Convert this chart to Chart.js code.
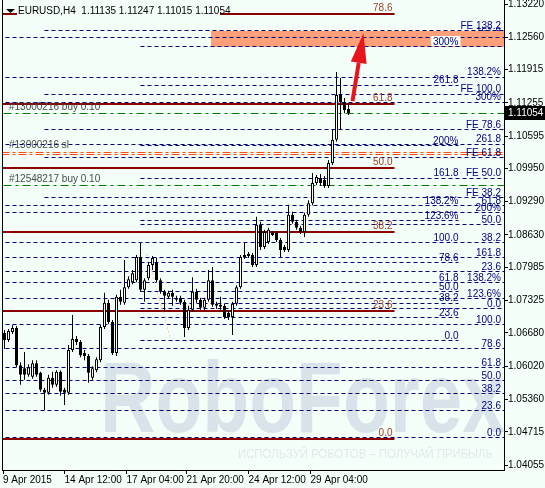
<!DOCTYPE html>
<html>
<head>
<meta charset="utf-8">
<script src="https://cdn.jsdelivr.net/npm/chart.js@4.4.0/dist/chart.umd.min.js"></script>
<style>
  html, body { margin: 0; padding: 0; background: #f5fffa; }
  #wrap { width: 545px; height: 488px; }
</style>
</head>
<body>
<div id="wrap"><canvas id="chart" width="545" height="488"></canvas></div>
<script>
// EURUSD H4 candles, 9 Apr - 30 Apr 2015
const opens = [1.0668, 1.0654, 1.0670, 1.0678, 1.0604, 1.0598, 1.0585, 1.0581, 1.0608, 1.0589,
  1.0555, 1.0549, 1.0579, 1.0565, 1.0591, 1.0555, 1.0549, 1.0634, 1.0656, 1.0650,
  1.0628, 1.0622, 1.0579, 1.0594, 1.0614, 1.0680, 1.0728, 1.0690, 1.0628, 1.0740,
  1.0728, 1.0759, 1.0769, 1.0773, 1.0819, 1.0754, 1.0777, 1.0803, 1.0807, 1.0773,
  1.0750, 1.0740, 1.0748, 1.0734, 1.0738, 1.0730, 1.0678, 1.0714, 1.0750, 1.0734,
  1.0718, 1.0734, 1.0773, 1.0726, 1.0724, 1.0722, 1.0708, 1.0700, 1.0726, 1.0759,
  1.0819, 1.0825, 1.0823, 1.0803, 1.0883, 1.0839, 1.0849, 1.0867, 1.0867, 1.0853,
  1.0839, 1.0833, 1.0903, 1.0889, 1.0877, 1.0869, 1.0903, 1.0926, 1.0966, 1.0976,
  1.0972, 1.0960, 1.1006, 1.1052, 1.1141, 1.1127, 1.11135];
const highs = [1.0674, 1.0676, 1.0684, 1.0682, 1.0610, 1.0630, 1.0606, 1.0614, 1.0614, 1.0591,
  1.0559, 1.0585, 1.0591, 1.0594, 1.0594, 1.0559, 1.0644, 1.0704, 1.0662, 1.0654,
  1.0634, 1.0626, 1.0602, 1.0620, 1.0684, 1.0748, 1.0734, 1.0694, 1.0744, 1.0754,
  1.0813, 1.0781, 1.0793, 1.0823, 1.0847, 1.0777, 1.0809, 1.0821, 1.0817, 1.0777,
  1.0754, 1.0752, 1.0754, 1.0742, 1.0742, 1.0734, 1.0722, 1.0779, 1.0756, 1.0738,
  1.0738, 1.0793, 1.0799, 1.0730, 1.0740, 1.0726, 1.0712, 1.0730, 1.0763, 1.0823,
  1.0847, 1.0829, 1.0827, 1.0899, 1.0889, 1.0873, 1.0877, 1.0871, 1.0871, 1.0857,
  1.0843, 1.0923, 1.0909, 1.0893, 1.0881, 1.0907, 1.0932, 1.0986, 1.0982, 1.0984,
  1.0980, 1.1012, 1.1072, 1.1187, 1.1175, 1.1135, 1.11247];
const lows = [1.0636, 1.0650, 1.0666, 1.0600, 1.0565, 1.0575, 1.0581, 1.0577, 1.0581, 1.0551,
  1.0515, 1.0545, 1.0559, 1.0561, 1.0543, 1.0525, 1.0545, 1.0630, 1.0644, 1.0620,
  1.0614, 1.0569, 1.0575, 1.0590, 1.0610, 1.0676, 1.0686, 1.0624, 1.0622, 1.0724,
  1.0724, 1.0756, 1.0765, 1.0769, 1.0750, 1.0730, 1.0773, 1.0793, 1.0769, 1.0746,
  1.0710, 1.0736, 1.0722, 1.0730, 1.0724, 1.0660, 1.0674, 1.0710, 1.0728, 1.0714,
  1.0712, 1.0730, 1.0720, 1.0716, 1.0714, 1.0696, 1.0694, 1.0664, 1.0722, 1.0756,
  1.0815, 1.0817, 1.0799, 1.0799, 1.0833, 1.0835, 1.0845, 1.0861, 1.0849, 1.0819,
  1.0829, 1.0829, 1.0885, 1.0873, 1.0865, 1.0859, 1.0899, 1.0922, 1.0962, 1.0960,
  1.0956, 1.0956, 1.1002, 1.1048, 1.1072, 1.1105, 1.11015];
const closes = [1.0654, 1.0672, 1.0678, 1.0604, 1.0585, 1.0585, 1.0600, 1.0608, 1.0585, 1.0555,
  1.0549, 1.0579, 1.0565, 1.0591, 1.0551, 1.0549, 1.0634, 1.0656, 1.0650, 1.0624,
  1.0622, 1.0589, 1.0598, 1.0616, 1.0680, 1.0728, 1.0690, 1.0628, 1.0740, 1.0730,
  1.0759, 1.0775, 1.0787, 1.0819, 1.0754, 1.0773, 1.0803, 1.0817, 1.0773, 1.0750,
  1.0742, 1.0748, 1.0740, 1.0738, 1.0728, 1.0678, 1.0714, 1.0750, 1.0734, 1.0718,
  1.0734, 1.0773, 1.0724, 1.0722, 1.0720, 1.0700, 1.0700, 1.0726, 1.0759, 1.0819,
  1.0823, 1.0821, 1.0803, 1.0883, 1.0839, 1.0869, 1.0873, 1.0863, 1.0853, 1.0833,
  1.0833, 1.0903, 1.0889, 1.0877, 1.0869, 1.0903, 1.0926, 1.0966, 1.0978, 1.0966,
  1.0960, 1.1006, 1.1052, 1.1141, 1.1127, 1.1111, 1.11054];

const priceTicks = [1.13220, 1.12560, 1.11915, 1.11255, 1.10595, 1.09950, 1.09290, 1.08630,
  1.07985, 1.07325, 1.06680, 1.06020, 1.05360, 1.04715, 1.04055];
const timeLabels = ["9 Apr 2015", "14 Apr 12:00", "17 Apr 04:00", "21 Apr 20:00", "24 Apr 12:00", "29 Apr 04:00"];
const timeBars = [-0.375, 15, 30.5, 45.5, 61, 76.5];

// fibo expansion levels (navy dashed)
const levelPrice = [1.12684, 1.12564, 1.12366, 1.11769, 1.11610, 1.11431, 1.11272, 1.10716, 1.10437, 1.10398,
  1.10159, 1.09761, 1.09364, 1.09205, 1.09066, 1.08907, 1.08827, 1.08469, 1.08171, 1.08072,
  1.07893, 1.07674, 1.07495, 1.07356, 1.07276, 1.07157, 1.06978, 1.06839, 1.06521, 1.06362,
  1.05984, 1.05726, 1.05467, 1.05129, 1.04593];
const levelFrom = [10, -5, 34, -5, 34, 10, -5, 10, -5, 34,
  10, 34, 10, -5, -5, 34, 34, -5, -5, 34,
  -5, -5, 34, -5, 34, 34, 34, -5, 34, -5,
  -5, -5, -5, -5, -5];
const levelTo = [130, 130, 130, 130, 113.5, 130, 130, 130, 130, 113.5,
  130, 130, 130, 130, 130, 113.5, 130, 130, 130, 113.5,
  130, 130, 113.5, 130, 113.5, 130, 113.5, 130, 113.5, 130,
  130, 130, 130, 130, 130];
const levelRight = ["FE 138.2", "161.8", "", "138.2%", "", "FE 100.0", "300%", "FE 78.6", "261.8", "",
  "FE 61.8", "FE 50.0", "FE 38.2", "61.8", "200%", "", "50.0", "38.2", "161.8", "",
  "23.6", "138.2%", "", "123.6%", "", "0.0", "", "100.0", "", "78.6",
  "61.8", "50.0", "38.2", "23.6", "0.0"];
const levelMid = ["", "", "300%", "", "261.8", "", "", "", "", "200%",
  "", "161.8", "", "138.2%", "", "123.6%", "", "100.0", "", "78.6",
  "", "61.8", "50.0", "", "38.2", "", "23.6", "", "0.0", "",
  "", "", "", "", ""];

// fibo retracement (maroon)
const retrPrice = [1.04573, 1.07117, 1.08688, 1.09960, 1.11232, 1.13022];
const retrText = ["0.0", "23.6", "38.2", "50.0", "61.8", "78.6"];
const retrEnd = 97.5;

// open orders
const orderPrice = [1.11050, 1.10258, 1.09622];
const orderText = ["#13000216 buy 0.10", "#13000216 sl", "#12548217 buy 0.10"];

// target zone, arrow, trend line
const zoneBars = [51.5, 130];
const zonePrices = [1.12684, 1.12366];
const arrowBars = [87, 89.75];
const arrowPrices = [1.1129, 1.1264];
const trendBars = [35.5, 41.5];
const trendPrices = [1.0825, 1.0657];

const BG = "#f5fffa";
const NAVY = "#000080";
const FONT = '10px "Liberation Sans"';

Chart.defaults.font.family = "Liberation Sans";
Chart.defaults.font.size = 10;
Chart.defaults.color = "#000";

const idx = opens.map((o, i) => i);
const datasets = [];

levelPrice.forEach((p, k) => {
  datasets.push({
    type: "line",
    data: [{ x: levelFrom[k], y: p }, { x: levelTo[k], y: p }],
    borderColor: NAVY, borderWidth: 1, borderDash: [4, 3],
    pointRadius: 0, clip: 0, order: 10, snap: true
  });
});

retrPrice.forEach(p => {
  datasets.push({
    type: "line",
    data: [{ x: -5, y: p }, { x: retrEnd, y: p }],
    borderColor: "#8b0000", borderWidth: 2,
    pointRadius: 0, clip: 0, order: 9, snap: true
  });
});

orderPrice.forEach((p, k) => {
  const sl = orderText[k].endsWith("sl");
  const offs = sl ? [0.0002, -0.0002] : [0];
  offs.forEach(d => {
    datasets.push({
      type: "line",
      data: [{ x: -5, y: p + d }, { x: 130, y: p + d }],
      borderColor: sl ? "#ff4d10" : "#008000", borderWidth: 1,
      borderDash: sl ? [8, 3, 3, 3] : [8, 4, 3, 4],
      pointRadius: 0, clip: 0, order: 8, snap: true
    });
  });
});

datasets.push({
  type: "line",
  data: [{ x: trendBars[0], y: trendPrices[0] }, { x: trendBars[1], y: trendPrices[1] }],
  borderColor: "#f5c9a6", borderWidth: 1, borderDash: [2, 2],
  pointRadius: 0, order: 7
});

// wicks
datasets.push({
  type: "bar",
  data: idx.map(i => ({ x: i, y: [lows[i], highs[i]] })),
  backgroundColor: "#000", borderWidth: 0, barThickness: 1,
  grouped: false, inflateAmount: 0, order: 2
});
// bodies
datasets.push({
  type: "bar",
  data: idx.map(i => ({ x: i, y: [opens[i], closes[i]] })),
  backgroundColor: idx.map(i => closes[i] > opens[i] ? "#fff" : "#000"),
  borderColor: "#000", borderWidth: 1, borderSkipped: false,
  barThickness: 3, minBarLength: 1, grouped: false, inflateAmount: 0, order: 1
});

function label(ctx, text, x, y, color) {
  ctx.fillStyle = color;
  ctx.fillText(text, x, y);
}

// keep the horizontal level lines on whole pixels
const snapLines = {
  id: "snapLines",
  beforeDatasetDraw(chart, args) {
    const ds = chart.data.datasets[args.index];
    chart.ctx.save();
    if (ds.snap && args.meta.data.length) {
      const y = args.meta.data[0].y;
      const target = ds.borderWidth % 2 ? Math.floor(y) + 0.5 : Math.round(y);
      chart.ctx.translate(0, target - y);
    }
  },
  afterDatasetDraw(chart) {
    chart.ctx.restore();
  }
};

const overlay = {
  id: "overlay",
  beforeDraw(chart) {
    const ctx = chart.ctx;
    ctx.save();
    ctx.fillStyle = BG;
    ctx.fillRect(0, 0, chart.width, chart.height);
    ctx.restore();
  },
  beforeDatasetsDraw(chart) {
    const ctx = chart.ctx, xs = chart.scales.x, ys = chart.scales.y, a = chart.chartArea;
    ctx.save();
    // watermark
    ctx.fillStyle = "#d9e4ea";
    ctx.font = 'bold 100px "Liberation Sans"';
    ctx.textBaseline = "alphabetic";
    ctx.textAlign = "left";
    let w = ctx.measureText("RoboForex").width;
    ctx.save();
    ctx.translate(100, 432);
    ctx.scale(405 / w, 1);
    ctx.fillText("RoboForex", 0, 0);
    ctx.restore();
    ctx.fillStyle = "#e0e8ec";
    ctx.font = '12px "Liberation Sans"';
    const sub = "ИСПОЛЬЗУЙ РОБОТОВ – ПОЛУЧАЙ ПРИБЫЛЬ";
    w = ctx.measureText(sub).width;
    ctx.save();
    ctx.translate(238, 458);
    ctx.scale(255 / w, 1);
    ctx.fillText(sub, 0, 0);
    ctx.restore();

    // labels that sit under the zone
    ctx.font = FONT;
    ctx.textAlign = "right";
    ctx.textBaseline = "bottom";
    levelPrice.forEach((p, k) => {
      if (levelRight[k] && p < zonePrices[0] && p > zonePrices[1]) {
        label(ctx, levelRight[k], a.right - 3, ys.getPixelForValue(p), NAVY);
      }
    });
    // zone
    const zx0 = Math.round(xs.getPixelForValue(zoneBars[0]));
    const zy0 = Math.round(ys.getPixelForValue(zonePrices[0]));
    const zy1 = Math.round(ys.getPixelForValue(zonePrices[1]));
    ctx.fillStyle = "#ffa07a";
    ctx.fillRect(zx0, zy0, a.right - zx0, zy1 - zy0);
    ctx.restore();
  },
  afterDatasetsDraw(chart) {
    const ctx = chart.ctx, xs = chart.scales.x, ys = chart.scales.y, a = chart.chartArea;
    ctx.save();
    ctx.font = FONT;
    ctx.textAlign = "right";
    ctx.textBaseline = "bottom";
    const midX = xs.getPixelForValue(113.5);
    levelPrice.forEach((p, k) => {
      const y = Math.round(ys.getPixelForValue(p));
      if (levelRight[k] && !(p < zonePrices[0] && p > zonePrices[1])) {
        label(ctx, levelRight[k], a.right - 3, y, NAVY);
      }
      if (levelMid[k]) {
        if (p <= zonePrices[0] && p >= zonePrices[1] - 0.0001) {
          const tw = ctx.measureText(levelMid[k]).width;
          ctx.fillStyle = BG;
          ctx.fillRect(midX - tw - 2, y - 11, tw + 4, 10);
        }
        label(ctx, levelMid[k], midX, y, NAVY);
      }
    });
    const rx = xs.getPixelForValue(retrEnd) - 2;
    retrPrice.forEach((p, k) => {
      label(ctx, retrText[k], rx, Math.round(ys.getPixelForValue(p)) - 1, "#a0402a");
    });

    // order labels
    ctx.textAlign = "left";
    orderPrice.forEach((p, k) => {
      const sl = orderText[k].endsWith("sl");
      label(ctx, orderText[k], a.left + 7, Math.round(ys.getPixelForValue(p)) - (sl ? 3 : 1), "#4a4a4a");
    });

    // arrow
    const x0 = xs.getPixelForValue(arrowBars[0]), y0 = ys.getPixelForValue(arrowPrices[0]);
    const x1 = xs.getPixelForValue(arrowBars[1]), y1 = ys.getPixelForValue(arrowPrices[1]);
    const ang = Math.atan2(y1 - y0, x1 - x0);
    const c = Math.cos(ang), s = Math.sin(ang);
    const bx = x1 - 30 * c, by = y1 - 30 * s;
    ctx.strokeStyle = "#e8141c";
    ctx.fillStyle = "#e8141c";
    ctx.lineWidth = 4;
    ctx.beginPath();
    ctx.moveTo(x0, y0);
    ctx.lineTo(bx, by);
    ctx.stroke();
    ctx.beginPath();
    ctx.moveTo(x1, y1);
    ctx.lineTo(bx - 8 * s, by + 8 * c);
    ctx.lineTo(bx + 8 * s, by - 8 * c);
    ctx.closePath();
    ctx.fill();

    // left border
    ctx.strokeStyle = "#000";
    ctx.lineWidth = 1;
    ctx.beginPath();
    ctx.moveTo(a.left + 0.5, a.top);
    ctx.lineTo(a.left + 0.5, a.bottom);
    ctx.stroke();

    // title
    const last = opens.length - 1;
    ctx.fillStyle = BG;
    ctx.fillRect(17, 0, 203, 15);
    ctx.fillStyle = "#000";
    ctx.beginPath();
    ctx.moveTo(6, 9);
    ctx.lineTo(15, 9);
    ctx.lineTo(10.5, 13);
    ctx.closePath();
    ctx.fill();
    ctx.textBaseline = "alphabetic";
    ctx.fillText("EURUSD,H4  " + [opens[last], highs[last], lows[last], closes[last]].map(v => v.toFixed(5)).join(" "), 18, 14);
    ctx.restore();
  },
  afterDraw(chart) {
    const ctx = chart.ctx, ys = chart.scales.y, a = chart.chartArea;
    const last = closes[closes.length - 1];
    const y = ys.getPixelForValue(last);
    ctx.save();
    ctx.fillStyle = "#000";
    ctx.fillRect(a.right + 1, Math.round(y) - 7, chart.width - a.right - 1, 14);
    ctx.fillStyle = "#fff";
    ctx.font = FONT;
    ctx.textBaseline = "middle";
    ctx.textAlign = "left";
    ctx.fillText(last.toFixed(5), a.right + 4, Math.round(y));
    ctx.restore();
  }
};

new Chart(document.getElementById("chart"), {
  type: "bar",
  data: { datasets: datasets },
  options: {
    responsive: false,
    animation: false,
    layout: { padding: { left: 2, top: 0, right: 0, bottom: 0 }, autoPadding: false },
    plugins: { legend: { display: false }, tooltip: { enabled: false } },
    scales: {
      x: {
        type: "linear",
        min: -0.625,
        max: 124.875,
        offset: false,
        afterBuildTicks: s => { s.ticks = timeBars.map(v => ({ value: v })); },
        afterFit: s => { s.height = 18; s.paddingLeft = 0; s.paddingRight = 0; },
        ticks: {
          callback: (v, i) => timeLabels[i],
          align: "start", padding: 0, maxRotation: 0, autoSkip: false, color: "#000"
        },
        grid: { drawOnChartArea: false, offset: false, tickLength: 4, color: "#000" },
        border: { color: "#000" }
      },
      y: {
        position: "right",
        min: 1.03956,
        max: 1.13300,
        afterBuildTicks: s => { s.ticks = priceTicks.map(v => ({ value: v })); },
        afterFit: s => { s.width = 41; s.paddingTop = 0; s.paddingBottom = 0; },
        ticks: { callback: v => v.toFixed(5), padding: 0, autoSkip: false, color: "#000" },
        grid: { drawOnChartArea: false, tickLength: 4, color: "#000" },
        border: { color: "#000" }
      }
    }
  },
  plugins: [snapLines, overlay]
});
</script>
</body>
</html>
